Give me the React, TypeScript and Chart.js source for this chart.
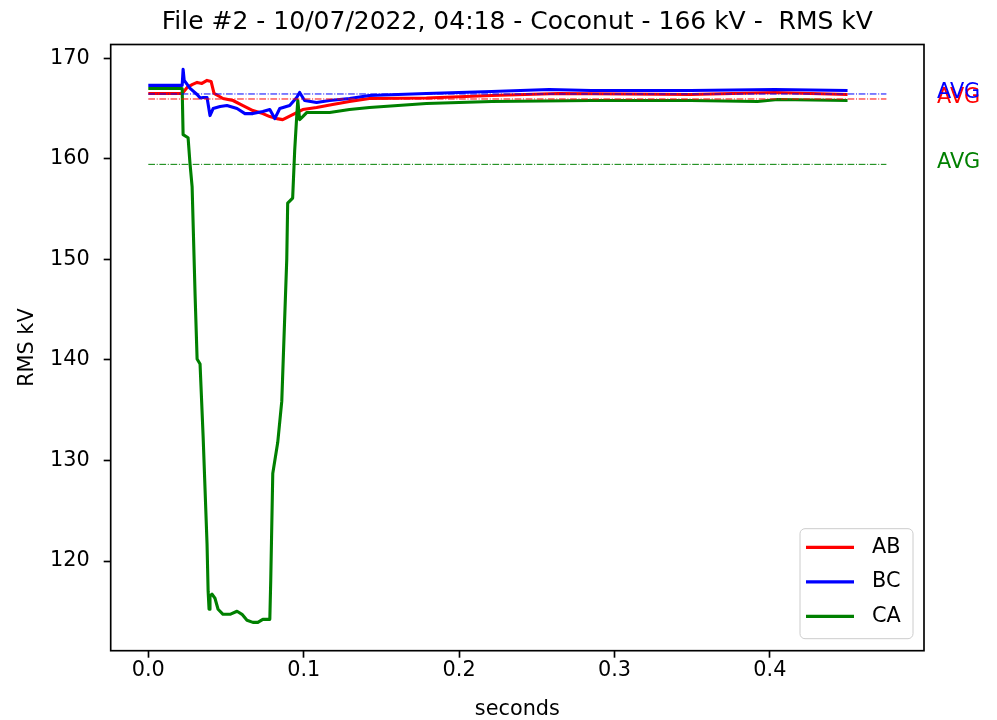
import React, { useEffect, useRef } from "react";
import { Chart, registerables } from "chart.js";

Chart.register(...registerables);

const TITLE = "File #2 - 10/07/2022, 04:18 - Coconut - 166 kV -  RMS kV";
const X_LABEL = "seconds";
const Y_LABEL = "RMS kV";
const SERIES_NAMES = ["AB", "BC", "CA"];
const SERIES_COLORS = ["#ff0000", "#0000ff", "#008000"];
const AVG_LABEL = "AVG";

// AB (red)
const abT = [0, 0.0218, 0.025, 0.0285, 0.0314, 0.0345, 0.0378, 0.0404, 0.0423, 0.0481, 0.0545, 0.0609, 0.0673, 0.0737, 0.0782, 0.0827, 0.0865, 0.0891, 0.0955, 0.0994, 0.1083, 0.1186, 0.1295, 0.1423, 0.179, 0.221, 0.264, 0.349, 0.403, 0.45];
const abV = [166.5, 166.5, 167.1, 167.4, 167.6, 167.5, 167.8, 167.7, 166.5, 166.0, 165.8, 165.3, 164.8, 164.5, 164.2, 164.0, 163.9, 164.1, 164.6, 164.9, 165.1, 165.4, 165.7, 166.0, 166.05, 166.3, 166.5, 166.4, 166.6, 166.4];

// BC (blue)
const bcT = [0, 0.0218, 0.0224, 0.0231, 0.0269, 0.0314, 0.0334, 0.0353, 0.0378, 0.0397, 0.0417, 0.0462, 0.0506, 0.0571, 0.0622, 0.0673, 0.0737, 0.0782, 0.0814, 0.0846, 0.091, 0.0955, 0.0974, 0.1006, 0.1083, 0.1167, 0.1295, 0.1423, 0.179, 0.221, 0.258, 0.285, 0.349, 0.403, 0.45];
const bcV = [167.3, 167.3, 168.9, 167.8, 167.0, 166.4, 166.05, 166.1, 166.1, 164.3, 165.0, 165.2, 165.3, 165.0, 164.5, 164.5, 164.7, 164.9, 164.0, 165.0, 165.3, 166.1, 166.6, 165.8, 165.6, 165.8, 166.0, 166.3, 166.5, 166.7, 166.9, 166.8, 166.8, 166.9, 166.8];

// CA (green)
const caT = [0, 0.0218, 0.0224, 0.0256, 0.0268, 0.0282, 0.0301, 0.0314, 0.0333, 0.0353, 0.0378, 0.0385, 0.0391, 0.0397, 0.041, 0.0429, 0.0449, 0.0481, 0.0526, 0.0571, 0.0603, 0.0635, 0.0673, 0.0705, 0.0737, 0.0782, 0.0788, 0.0801, 0.0833, 0.0859, 0.0891, 0.0897, 0.0929, 0.0942, 0.0955, 0.0962, 0.0974, 0.0994, 0.1019, 0.1167, 0.1295, 0.1423, 0.179, 0.221, 0.285, 0.349, 0.392, 0.405, 0.45];
const caV = [167.0, 167.0, 162.4, 162.1, 159.6, 157.2, 146.5, 140.1, 139.6, 132.3, 121.7, 117.0, 115.2, 116.5, 116.7, 116.3, 115.2, 114.7, 114.7, 115.0, 114.7, 114.1, 113.9, 113.9, 114.2, 114.2, 118.1, 128.7, 131.8, 135.9, 150.0, 155.6, 156.1, 160.8, 164.2, 165.8, 163.9, 164.2, 164.6, 164.6, 164.9, 165.1, 165.5, 165.7, 165.8, 165.8, 165.7, 165.9, 165.8];

const avgValues = [165.95, 166.45, 159.45];
const avgSpan = [0, 0.475];

const xTicks = [0, 0.1, 0.2, 0.3, 0.4];
const yTicks = [120, 130, 140, 150, 160, 170];
const xRange = [-0.0242, 0.4992];
const yRange = [111.08, 171.37];

const FONT = "'DejaVu Sans', 'Liberation Sans', sans-serif";

const seriesT = [abT, bcT, caT];
const seriesV = [abV, bcV, caV];

const decor = {
  id: "decor",
  afterDatasetsDraw(chart: any) {
    const { ctx, chartArea: a } = chart;
    ctx.save();
    ctx.strokeStyle = "#000";
    ctx.lineWidth = 1.67;
    ctx.strokeRect(a.left, a.top, a.right - a.left, a.bottom - a.top);
    ctx.restore();
  },
  afterDraw(chart: any) {
    const { ctx, chartArea: a } = chart;
    const ys = chart.scales.y;
    const cx = (a.left + a.right) / 2;
    ctx.save();
    ctx.fillStyle = "#000";
    // title
    ctx.font = `25px ${FONT}`;
    ctx.textAlign = "center";
    ctx.textBaseline = "alphabetic";
    ctx.fillText(TITLE, cx, a.top - 15.5);
    // x label
    ctx.font = `20.8px ${FONT}`;
    ctx.fillText(X_LABEL, cx, a.bottom + 64);
    // y label
    ctx.save();
    ctx.translate(a.left - 77.7, (a.top + a.bottom) / 2);
    ctx.rotate(-Math.PI / 2);
    ctx.fillText(Y_LABEL, 0, 0);
    ctx.restore();

    // AVG labels
    ctx.textAlign = "left";
    ctx.textBaseline = "middle";
    avgValues.forEach((v, i) => {
      ctx.fillStyle = SERIES_COLORS[i];
      ctx.fillText(AVG_LABEL, a.right + 13, ys.getPixelForValue(v) - 1.5);
    });

    // legend
    const bw = 113, bh = 110;
    const bx = a.right - 11 - bw;
    const by = a.bottom - 12 - bh;
    ctx.beginPath();
    (ctx as any).roundRect(bx, by, bw, bh, 5);
    ctx.fillStyle = "rgba(255,255,255,0.8)";
    ctx.fill();
    ctx.strokeStyle = "#cccccc";
    ctx.lineWidth = 1;
    ctx.stroke();
    SERIES_NAMES.forEach((name, i) => {
      const y = by + 18.7 + i * 34.5;
      ctx.strokeStyle = SERIES_COLORS[i];
      ctx.lineWidth = 3.1;
      ctx.beginPath();
      ctx.moveTo(bx + 6, y);
      ctx.lineTo(bx + 54, y);
      ctx.stroke();
      ctx.fillStyle = "#000";
      ctx.textAlign = "left";
      ctx.textBaseline = "middle";
      ctx.fillText(name, bx + 72, y);
    });
    ctx.restore();
  },
};

export default function App() {
  const ref = useRef<HTMLCanvasElement | null>(null);

  useEffect(() => {
    if (!ref.current) return;
    const lineSets = SERIES_NAMES.map((name, i) => ({
      label: name,
      data: seriesT[i].map((x, j) => ({ x, y: seriesV[i][j] })),
      borderColor: SERIES_COLORS[i],
      backgroundColor: SERIES_COLORS[i],
      borderWidth: 3.1,
      pointRadius: 0,
      tension: 0,
      fill: false,
      borderJoinStyle: "round" as const,
      order: 3 - i,
    }));
    const avgSets = avgValues.map((v, i) => ({
      label: SERIES_NAMES[i] + " " + AVG_LABEL,
      data: avgSpan.map((x) => ({ x, y: v })),
      borderColor: SERIES_COLORS[i],
      borderWidth: 1,
      borderDash: [6.7, 1.7, 1, 1.7],
      pointRadius: 0,
      fill: false,
      order: 0,
    }));

    const tickFont = { family: FONT, size: 20.8 };
    const grid = {
      display: true,
      drawOnChartArea: false,
      drawTicks: true,
      tickLength: 7,
      tickWidth: 1.67,
      tickColor: "#000",
    };

    const chart = new Chart(ref.current, {
      type: "line",
      data: { datasets: [...lineSets, ...avgSets] as any },
      options: {
        animation: false,
        responsive: false,
        devicePixelRatio: 1,
        layout: { padding: { left: 0, top: 44.5, right: 73, bottom: 0 } },
        plugins: {
          legend: { display: false },
          title: { display: false },
          tooltip: { enabled: false },
        },
        scales: {
          x: {
            type: "linear",
            min: xRange[0],
            max: xRange[1],
            afterBuildTicks: (s: any) => {
              s.ticks = xTicks.map((value) => ({ value }));
            },
            afterFit: (s: any) => {
              s.height = 69.3;
            },
            ticks: {
              callback: (v: any) => Number(v).toFixed(1),
              font: tickFont,
              color: "#000",
              padding: 0,
              maxRotation: 0,
              autoSkip: false,
            },
            grid,
            border: { display: false },
          },
          y: {
            type: "linear",
            min: yRange[0],
            max: yRange[1],
            afterBuildTicks: (s: any) => {
              s.ticks = yTicks.map((value) => ({ value }));
            },
            afterFit: (s: any) => {
              s.width = 110.7;
            },
            ticks: {
              callback: (v: any) => String(v),
              font: tickFont,
              color: "#000",
              padding: 14,
              autoSkip: false,
            },
            grid,
            border: { display: false },
          },
        },
      } as any,
      plugins: [decor],
    });
    return () => chart.destroy();
  }, []);

  return (
    <div style={{ position: "absolute", left: 0, top: 0, width: 997, height: 720, background: "#fff" }}>
      <canvas ref={ref} width={997} height={720} style={{ display: "block", width: 997, height: 720 }} />
    </div>
  );
}
